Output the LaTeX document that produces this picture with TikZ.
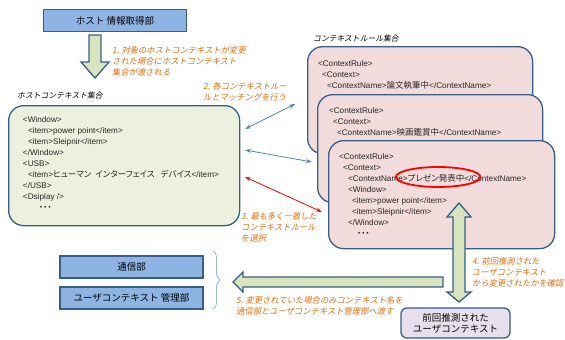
\documentclass[tikz,border=0pt]{standalone}
\usepackage{fontspec}
\setmainfont{Noto Sans CJK JP}
\newfontfamily\slfont{Noto Sans CJK JP}[FakeSlant=0.2]
\newfontfamily\xlat{Liberation Sans}
\newfontfamily\jpfont{Noto Sans CJK JP}[RawFeature=+palt]
\newcommand\jtxt[1]{{\jpfont\fontsize{8.5}{11}\selectfont #1}}
\usetikzlibrary{arrows.meta,decorations.pathreplacing,calc}
\definecolor{bdr}{HTML}{385D8A}
\definecolor{bluefill}{HTML}{8EB4E3}
\definecolor{greenfill}{HTML}{EBF1DE}
\definecolor{pinkfill}{HTML}{F2DCDB}
\definecolor{arrowfill}{HTML}{D7E4BD}
\definecolor{orangetxt}{HTML}{E46C0A}
\definecolor{bluearrow}{HTML}{4F81BD}
\definecolor{lavender}{HTML}{E6E0EC}
\definecolor{bracecol}{HTML}{95B3D7}
\tikzset{
  unitbox/.style={draw=bdr, line width=1.5pt, fill=bluefill, minimum width=143pt, minimum height=22pt, inner sep=0pt, font=\fontsize{9.5}{11}\selectfont},
  setbox/.style={draw=bdr, line width=1.3pt, rounded corners=15pt},
  xl/.style={anchor=base west, inner sep=0pt, outer sep=0pt, font=\xlat\fontsize{8.2}{11}\selectfont, text=black!85},
  note/.style={anchor=north west, inner sep=0pt, align=left, text=orangetxt, font=\slfont\fontsize{8.3}{11.2}\selectfont},
  heading/.style={anchor=north west, inner sep=0pt, font=\slfont\fontsize{7.8}{9}\selectfont},
  blockarrow/.style={draw=bdr, line width=1.3pt, fill=arrowfill, line join=miter},
  thinarrow/.style={line width=0.8pt, {Stealth[length=6pt,width=4pt]}-{Stealth[length=6pt,width=4pt]}},
}
\begin{document}
\begin{tikzpicture}[x=1pt,y=-1pt]
\useasboundingbox (0,0) rectangle (565,340);

% top unit
\node[unitbox] (host) at (115,20.5) {ホスト 情報取得部};

% down block arrow
\draw[blockarrow] (89,35) -- (101,35) -- (101,62) -- (109,62) -- (95,78) -- (81,62) -- (89,62) -- cycle;

% host context set
\node[heading] (hostlbl) at (17,92) {ホストコンテキスト集合};
\node[setbox, fill=greenfill, minimum width=231pt, minimum height=120pt, anchor=north west] (hostset) at (8,105) {};
\foreach \dx/\t [count=\i] in {0/{<Window>}, 5/{<item>power point</item>}, 5/{<item>Sleipnir</item>}, 0/{</Window>}, 0/{<USB>}, 5/{<item>\jtxt{ヒューマン\hspace{4pt}インターフェイス\hspace{6pt}デバイス}</item>}, 0/{</USB>}, 0/{<Dsiplay />}, 16/{\jtxt{・・・}}}
  \node[xl] (h\i) at (23+\dx,122+11.1*\i-11.1) {\t};

% context rule set
\node[heading] (rulelbl) at (313,35) {コンテキストルール集合};
\node[setbox, fill=pinkfill, minimum width=225pt, minimum height=107pt, anchor=north west] (rule1) at (307,46) {};
\foreach \dx/\t [count=\i] in {0/{<ContextRule>}, 4/{<Context>}, 9/{<ContextName>\jtxt{論文執筆中}</ContextName>}}
  \node[xl] (ra\i) at (318+\dx,66+11*\i-11) {\t};
\node[setbox, fill=pinkfill, minimum width=225pt, minimum height=108pt, anchor=north west] (rule2) at (317,94) {};
\foreach \dx/\t [count=\i] in {0/{<ContextRule>}, 4/{<Context>}, 8/{<ContextName>\jtxt{映画鑑賞中}</ContextName>}}
  \node[xl] (rb\i) at (329+\dx,113+11*\i-11) {\t};
\node[setbox, fill=pinkfill, minimum width=226pt, minimum height=108pt, anchor=north west] (rule3) at (328,140) {};
\node[xl] (rc1) at (339,159) {<ContextRule>};
\node[xl] (rc2) at (343,170.1) {<Context>};
\node[xl] (rc3a) at (348,181.2) {<ContextName};
\node[xl, anchor=base west] (rc3b) at (rc3a.base east) {>\jtxt{プレゼン発表中}</};
\node[xl, anchor=base west] (rc3c) at (rc3b.base east) {ContextName>};
\foreach \dx/\t [count=\i from 4] in {0/{<Window>}, 4/{<item>power point</item>}, 4/{<item>Sleipnir</item>}, 0/{</Window>}, 9/{\jtxt{・・・}}}
  \node[xl] (rc\i) at (348+\dx,159+11.1*\i-11.1) {\t};
\path let \p1 = ($(rc3b.east)-(rc3b.west)$) in
  \pgfextra{\pgfmathsetmacro\erx{0.5*abs(\x1)+8}}
  [draw=red, line width=1.8pt] ($(rc3b.center)+(1,-1)$) ellipse [x radius=\erx, y radius=10];

% thin arrows
\coordinate (a1s) at (245,129);
\coordinate (a1e) at (295,104);
\coordinate (a2s) at (245,150);
\coordinate (a2e) at (312,162);
\coordinate (a3s) at (245,177);
\coordinate (a3e) at (322,212);
\draw[thinarrow, bluearrow] (a1s) -- (a1e);
\draw[thinarrow, bluearrow] (a2s) -- (a2e);
\draw[thinarrow, red] (a3s) -- (a3e);

% notes
\node[note] (n1) at (112,46) {1. 対象のホストコンテキストが変更\\された場合にホストコンテキスト\\集合が渡される};
\node[note] (n2) at (203,82) {2. 各コンテキストルー\\ルとマッチングを行う};
\node[note] (n3) at (241,212) {3. 最も多く一致した\\コンテキストルール\\を選択};
\node[note] (n4) at (472,257) {4. 前回推測された\\ユーザコンテキスト\\から変更されたかを確認};
\node[note] (n5) at (236,296) {5. 変更されていた場合のみコンテキスト名を\\通信部とユーザコンテキスト管理部へ渡す};

% vertical double block arrow
\draw[blockarrow] (459,203) -- (471,217) -- (465,217) -- (465,292) -- (471,292) -- (459,302) -- (447,292) -- (453,292) -- (453,217) -- (447,217) -- cycle;

% left block arrow
\draw[blockarrow] (443,277) -- (443,287) -- (243,287) -- (243,292) -- (233,282) -- (243,272) -- (243,277) -- cycle;

% previous user context
\node[draw=bdr, line width=1.3pt, fill=lavender, rounded corners=6pt, minimum width=109pt, minimum height=30pt, align=center, inner sep=0pt, font=\fontsize{9.5}{11}\selectfont] (prev) at (455.5,323) {前回推測された\\ユーザコンテキスト};

% left units
\node[unitbox] (comm) at (131.5,267) {通信部};
\node[unitbox] (ucm) at (131.5,298) {ユーザコンテキスト 管理部};

% brace
\coordinate (bt) at (213,251);
\coordinate (bb) at (213,309);
\draw[bracecol, line width=0.8pt, decorate, decoration={brace, amplitude=7pt}] (bt) -- (bb);
\end{tikzpicture}
\end{document}
